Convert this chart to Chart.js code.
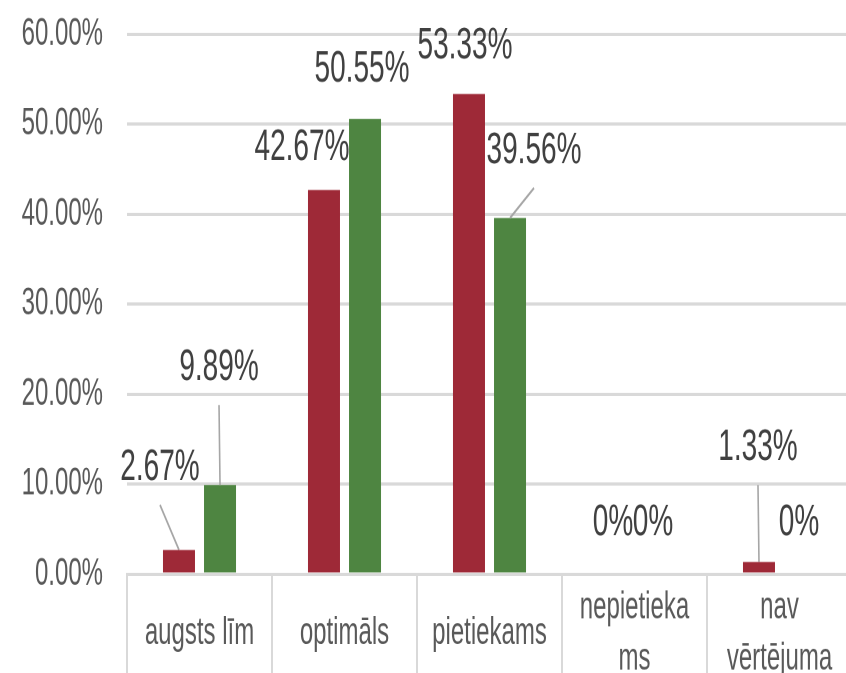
<!DOCTYPE html>
<html>
<head>
<meta charset="utf-8">
<script src="https://cdn.jsdelivr.net/npm/chart.js@4.4.1/dist/chart.umd.min.js"></script>
<style>
html, body { margin: 0; padding: 0; overflow: hidden; background: #ffffff; width: 846px; height: 673px; }
#wrap { position: absolute; left: 0; top: 0; width: 860px; height: 440px; transform: scaleY(1.6); transform-origin: 0 0; }
</style>
</head>
<body>
<div id="wrap"><canvas id="c" width="860" height="440"></canvas></div>
<script>
// ---- data ----
const categories = ['augsts līm', 'optimāls', 'pietiekams', ['nepietieka', 'ms'], ['nav', 'vērtējuma']];
const series1Name = 'Sērija 1';
const series1Values = [2.67, 42.67, 53.33, 0, 1.33];
const series2Name = 'Sērija 2';
const series2Values = [9.89, 50.55, 39.56, 0, 0];
const yTickValues = [0, 10, 20, 30, 40, 50, 60];

// ---- styling ----
const K = 1.6; // vertical stretch of the picture
const FONT = '"Liberation Sans", Arial, sans-serif';
const RED = '#9E2937';
const GREEN = '#4E8541';
const GRID = '#d9d9d9';
// label offsets from bar top (screen px): [dx, dy, leaderLine]
const labelOffsets = [
  [[-19, -82, true], [-22, -42, false], [-4, -48, false], [-1, -51, false], [-1, -114, true]],
  [[-1, -117, true], [-3, -50, false], [24, -67, true], [-2, -51, false], [-1, -51, false]]
];

const fmtLabel = v => (v === 0 ? '0%' : v.toFixed(2) + '%');

function drawLabels(chart, dsIndex) {
  const ctx = chart.ctx;
  const meta = chart.getDatasetMeta(dsIndex);
  const vals = chart.data.datasets[dsIndex].data;
  meta.data.forEach((el, j) => {
    const [dx, dy, lead] = labelOffsets[dsIndex][j];
    const lx = el.x + dx;
    const ly = el.y + dy / K;
    ctx.save();
    if (lead) {
      ctx.strokeStyle = '#a6a6a6';
      ctx.lineWidth = 1.6;
      ctx.beginPath();
      ctx.moveTo(el.x, el.y);
      ctx.lineTo(lx, ly + 37 / K);
      ctx.stroke();
    }
    ctx.font = '28px ' + FONT;
    ctx.fillStyle = '#404040';
    ctx.textAlign = 'center';
    ctx.textBaseline = 'middle';
    ctx.fillText(fmtLabel(vals[j]), lx, ly);
    ctx.restore();
  });
}

const labelPlugin = {
  id: 'valueLabels',
  beforeDatasetsDraw(chart) { drawLabels(chart, 0); },
  afterDatasetsDraw(chart) { drawLabels(chart, 1); }
};

Chart.defaults.font.family = FONT;

new Chart(document.getElementById('c'), {
  type: 'bar',
  data: {
    labels: categories,
    datasets: [
      { label: series1Name, data: series1Values, backgroundColor: RED, borderWidth: 0 },
      { label: series2Name, data: series2Values, backgroundColor: GREEN, borderWidth: 0 }
    ]
  },
  options: {
    responsive: false,
    animation: false,
    devicePixelRatio: 2,
    categoryPercentage: 0.566,
    barPercentage: 0.78,
    layout: { padding: { top: 21.25, right: 8, left: 0, bottom: 0 } },
    plugins: { legend: { display: false }, tooltip: { enabled: false } },
    scales: {
      x: {
        grid: { display: true, drawOnChartArea: false, drawTicks: true, tickLength: 90, color: GRID, lineWidth: 2, offset: true },
        border: { display: true, color: GRID, width: 2 },
        ticks: {
          font: { size: 24, lineHeight: 1.33 },
          color: '#595959',
          padding: -68.75,
          crossAlign: 'center',
          maxRotation: 0,
          minRotation: 0,
          autoSkip: false
        },
        afterFit: s => { s.height = 440 - 358.75; }
      },
      y: {
        min: 0,
        max: 60,
        grid: { color: GRID, lineWidth: 2, drawTicks: true, tickLength: 24, tickColor: 'rgba(0,0,0,0)' },
        border: { display: false },
        ticks: {
          padding: 0,
          font: { size: 24 },
          color: '#595959',
          callback: v => v.toFixed(2) + '%'
        },
        afterBuildTicks: s => { s.ticks = yTickValues.map(v => ({ value: v })); },
        afterFit: s => { s.width = 127; }
      }
    }
  },
  plugins: [labelPlugin]
});
</script>
</body>
</html>
